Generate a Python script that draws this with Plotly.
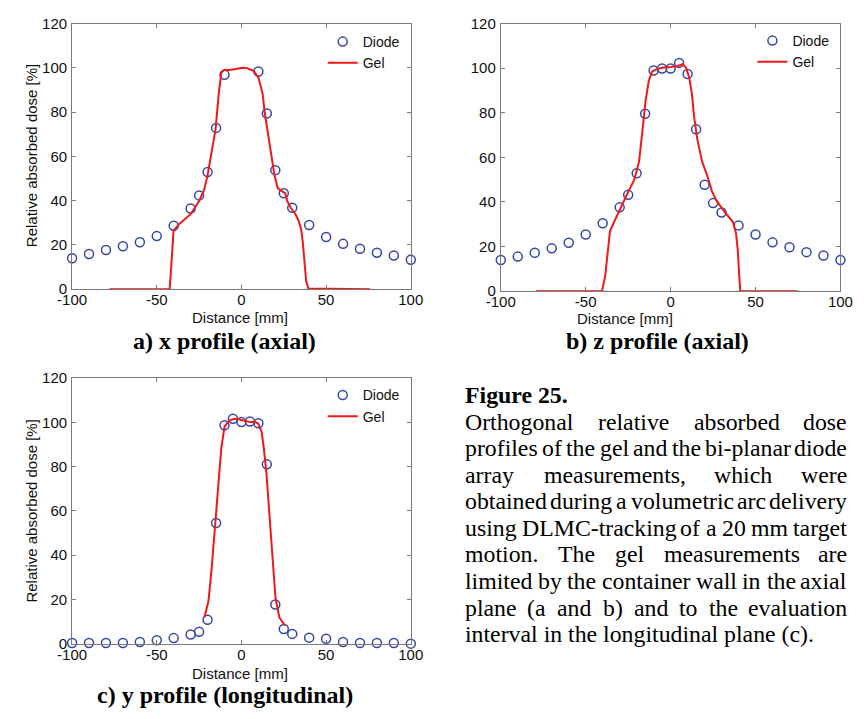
import plotly.graph_objects as go

# ---------------- data ----------------
xa_diode = [-100, -90, -80, -70, -60, -50, -40, -30, -25, -20, -15, -10,
            10, 15, 20, 25, 30, 40, 50, 60, 70, 80, 90, 100]
ya_diode = [14.0, 15.9, 17.7, 19.4, 21.2, 24.0, 28.7, 36.5, 42.4, 53.0, 72.9, 96.9,
            98.4, 79.4, 53.8, 43.4, 36.8, 29.0, 23.6, 20.5, 18.3, 16.5, 15.2, 13.3]
xa_gel = [-78, -42.4, -41.3, -40.1, -36.7, -33, -30, -25, -22, -20, -17.6, -15.3, -13.4,
          -11.9, -10, -7.1, -4.3, 0.5, 3.3, 7.1, 10, 12.5, 13.8, 15.7, 17.6, 19.5, 21.4,
          23.3, 25.8, 27.1, 29.1, 31.9, 33.8, 35.4, 36.3, 37.3, 38.2, 39.5, 76]
ya_gel = [0, 0, 12, 26.5, 29.5, 32, 33.9, 39.8, 45, 51.5, 61.9, 72.2, 88.4,
          97.9, 99.2, 99.1, 99.4, 100.1, 99.9, 98.7, 95.7, 88.4, 79.5, 70.7, 60.4, 51.5, 45.7,
          44.5, 43.4, 39.8, 36.8, 33.9, 30.9, 26.5, 20.6, 10.3, 3.7, 0.3, 0]

xb_diode = [-100, -90, -80, -70, -60, -50, -40, -30, -25, -20, -15, -10, -5, 0, 5,
            10, 15, 20, 25, 30, 40, 50, 60, 70, 80, 90, 100]
yb_diode = [14.0, 15.5, 17.2, 19.2, 21.7, 25.4, 30.5, 37.6, 43.2, 52.9, 79.6, 99.0, 99.9, 99.9, 102.4,
            97.4, 72.6, 47.7, 39.5, 35.3, 29.5, 25.4, 21.9, 19.7, 17.5, 16.0, 14.0]
xb_gel = [-79.4, -40.4, -38.5, -37, -35.7, -32.8, -29, -25.2, -21.4, -18.6, -16.7, -14.7, -12.8,
          -10.9, -8.1, -4.3, 0, 4.3, 7.1, 9, 10.9, 12.5, 13.8, 15.7, 18.6, 21.4, 24.3, 27.1,
          31.9, 36.6, 38.5, 39.5, 40.4, 41, 74.7]
yb_gel = [0, 0, 7, 18.7, 27, 31.8, 38.3, 44.2, 50, 58, 71.2, 85.7, 94.5,
          98.6, 99.6, 100.3, 100.6, 101.0, 101.8, 100.3, 96, 88.7, 78.4, 68.2, 58, 52.2, 44.9, 40.5,
          35.4, 31.1, 26, 18.7, 7, 0, 0]

xc_diode = [-100, -90, -80, -70, -60, -50, -40, -30, -25, -20, -15, -10, -5, 0, 5,
            10, 15, 20, 25, 30, 40, 50, 60, 70, 80, 90, 100]
yc_diode = [0.3, 0.3, 0.3, 0.3, 0.7, 1.5, 2.5, 4.1, 5.4, 10.8, 54.5, 98.7, 101.6, 100.1, 100.4,
            99.6, 81.0, 17.7, 6.6, 4.4, 2.7, 2.2, 0.7, 0.3, 0.3, 0.3, 0.0]
xc_gel = [-21.9, -19.5, -17.6, -15.7, -13.8, -11.9, -10, -8.1, -6.2, -3.3, -0.5, 2.4, 5.2,
          8.1, 10, 11.9, 13.2, 14.8, 16.7, 18.2, 20.1, 22.4, 25.8]
yc_gel = [11.8, 19.1, 33.9, 51.5, 70.7, 88.4, 97.9, 100.1, 101.2, 101.6, 101.2, 100.6, 100.1,
          100.1, 99.4, 95.7, 88.4, 76.6, 57.4, 38.3, 20.6, 11.8, 8.1]

x_ticks = [-100, -50, 0, 50, 100]
x_ticktext = ["-100", "-50", "0", "50", "100"]
y_ticks = [0, 20, 40, 60, 80, 100, 120]

subtitles = ["a) x profile (axial)", "b) z profile (axial)", "c) y profile (longitudinal)"]
ytitle = "Relative absorbed dose [%]"
xtitle = "Distance [mm]"
fig_title = "Figure 25."
caption_lines = [
    "Orthogonal relative absorbed dose",
    "profiles of the gel and the bi-planar diode",
    "array measurements, which were",
    "obtained during a volumetric arc delivery",
    "using DLMC-tracking of a 20 mm target",
    "motion. The gel measurements are",
    "limited by the container wall in the axial",
    "plane (a and b) and to the evaluation",
    "interval in the longitudinal plane (c).",
]

# ---------------- layout helpers ----------------
W, H = 867, 719
SANS = "Liberation Sans, Arial, Helvetica, sans-serif"
SERIF = "Liberation Serif, Times New Roman, serif"
BLUE = "#3546a8"
RED = "#f01818"
AXC = "#7a7a7a"

def px(x):
    return x / W

def py(y):
    return 1 - y / H

panels = {
    "a": dict(x0=59, x1=409, y0=15, y1=287),
    "b": dict(x0=502, x1=853, y0=15, y1=289),
    "c": dict(x0=59, x1=409, y0=378, y1=650),
}

fig = go.Figure()

series = [
    ("a", "x", "y", "legend", xa_diode, ya_diode, xa_gel, ya_gel),
    ("b", "x2", "y2", "legend2", xb_diode, yb_diode, xb_gel, yb_gel),
    ("c", "x3", "y3", "legend3", xc_diode, yc_diode, xc_gel, yc_gel),
]
for key, xr, yr, lg, xd, yd, xg, yg in series:
    fig.add_trace(go.Scatter(
        x=xd, y=yd, mode="markers", name="Diode", xaxis=xr, yaxis=yr, legend=lg,
        cliponaxis=False,
        marker=dict(symbol="circle-open", size=9, color=BLUE, line=dict(width=1.5, color=BLUE)),
    ))
    fig.add_trace(go.Scatter(
        x=xg, y=yg, mode="lines", name="Gel", xaxis=xr, yaxis=yr, legend=lg,
        cliponaxis=False,
        line=dict(color=RED, width=2),
    ))

axis_common = dict(
    showline=True, linecolor=AXC, linewidth=1, mirror="ticks",
    ticks="inside", ticklen=4, tickcolor=AXC, tickwidth=1,
    showgrid=False, zeroline=False,
    tickfont=dict(family=SANS, size=15, color="#111111"),
)

layout = dict(
    width=W, height=H, margin=dict(l=0, r=0, t=0, b=0),
    paper_bgcolor="white", plot_bgcolor="white",
    showlegend=True,
)
names = {"a": ("xaxis", "yaxis", "y", "x"), "b": ("xaxis2", "yaxis2", "y2", "x2"),
         "c": ("xaxis3", "yaxis3", "y3", "x3")}
for key, p in panels.items():
    xn, yn, yanc, xanc = names[key]
    layout[xn] = dict(axis_common, domain=[px(p["x0"]), px(p["x1"])], range=[-100, 100],
                      tickvals=x_ticks, ticktext=x_ticktext, anchor=yanc, ticklabelstandoff=-3)
    layout[yn] = dict(axis_common, domain=[py(p["y1"]), py(p["y0"])], range=[0, 120],
                      tickvals=y_ticks, anchor=xanc, ticklabelstandoff=1)

leg_common = dict(bgcolor="rgba(0,0,0,0)", borderwidth=0, xanchor="left", yanchor="top",
                  font=dict(family=SANS, size=14, color="#111111"), itemwidth=30,
                  traceorder="normal")
layout["legend"] = dict(leg_common, x=px(318), y=py(17.4))
layout["legend2"] = dict(leg_common, x=px(762), y=py(16.4))
layout["legend3"] = dict(leg_common, x=px(318), y=py(379.4))
fig.update_layout(**layout)

ann = []
# axis titles
for (xc, yc) in [(17.3, 150), (17.3, 514)]:
    ann.append(dict(text=ytitle, x=px(xc), y=py(yc), xref="paper", yref="paper",
                    textangle=-90, xanchor="center", yanchor="middle", showarrow=False,
                    font=dict(family=SANS, size=15, color="#111111")))
for (xc, yc) in [(233, 316), (630.5, 317), (232.5, 680.5)]:
    ann.append(dict(text=xtitle, x=px(xc), y=py(yc), xref="paper", yref="paper",
                    xanchor="center", yanchor="middle", showarrow=False,
                    font=dict(family=SANS, size=15, color="#111111")))
# subtitles
for t, (xc, yc) in zip(subtitles, [(216.5, 340), (664, 340), (217, 703)]):
    ann.append(dict(text="<b>%s</b>" % t, x=px(xc), y=py(yc), xref="paper", yref="paper",
                    xanchor="center", yanchor="middle", showarrow=False,
                    font=dict(family=SERIF, size=24, color="black")))

# caption (justified text, Times metrics)
TW = {' ': 250, '(': 333, ')': 333, ',': 250, '-': 333, '.': 250, '0': 500, '2': 500,
      'C': 667, 'D': 722, 'L': 611, 'M': 889, 'O': 722, 'T': 611,
      'a': 444, 'b': 500, 'c': 444, 'd': 500, 'e': 444, 'f': 333, 'g': 500, 'h': 500,
      'i': 278, 'j': 278, 'k': 500, 'l': 278, 'm': 778, 'n': 500, 'o': 500, 'p': 500,
      'q': 500, 'r': 333, 's': 389, 't': 278, 'u': 500, 'v': 500, 'w': 722, 'x': 500,
      'y': 500, 'z': 444}

def tw(s, fs):
    return sum(TW.get(c, 500) for c in s) * fs / 1000.0 * 1.02

CFS = 23.8
CL, CR = 465, 860
ann.append(dict(text="<b>%s</b>" % fig_title, x=px(CL - 2), y=py(395), xref="paper", yref="paper",
                xanchor="left", yanchor="middle", showarrow=False,
                font=dict(family=SERIF, size=CFS, color="black")))
for k, line in enumerate(caption_lines):
    yc = 430.7 + 27.2 * k - 0.3375 * CFS
    words = line.split(" ")
    if k == len(caption_lines) - 1:
        ann.append(dict(text=line, x=px(CL - 2), y=py(yc), xref="paper", yref="paper",
                        xanchor="left", yanchor="middle", showarrow=False,
                        font=dict(family=SERIF, size=CFS, color="black")))
        continue
    widths = [tw(w, CFS) for w in words]
    gap = (CR - CL - sum(widths)) / (len(words) - 1)
    xpos = CL
    for i, (w, wd) in enumerate(zip(words, widths)):
        if i == len(words) - 1:
            ann.append(dict(text=w, x=px(CR + 2), y=py(yc), xref="paper", yref="paper",
                            xanchor="right", yanchor="middle", showarrow=False,
                            font=dict(family=SERIF, size=CFS, color="black")))
        else:
            ann.append(dict(text=w, x=px(xpos - 2), y=py(yc), xref="paper", yref="paper",
                            xanchor="left", yanchor="middle", showarrow=False,
                            font=dict(family=SERIF, size=CFS, color="black")))
        xpos += wd + gap

fig.update_layout(annotations=ann)
fig.write_html("out.html", config={"displayModeBar": False},
               post_script="document.body.style.margin='0';document.body.style.overflow='hidden';")
